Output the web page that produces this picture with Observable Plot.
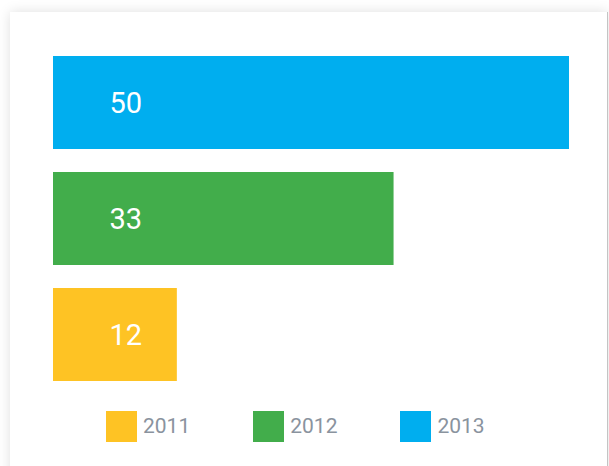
<!DOCTYPE html>
<html>
<head>
<meta charset="utf-8">
<script src="https://cdn.jsdelivr.net/npm/d3@7"></script>
<script src="https://cdn.jsdelivr.net/npm/@observablehq/plot@0.6"></script>
<style>
  html, body { margin: 0; padding: 0; background: #ffffff; width: 609px; height: 466px; overflow: hidden; font-family: Roboto, "Noto Sans", sans-serif; }
  #card { position: absolute; left: 10px; top: 12px; width: 598px; height: 520px; background: #fff;
          box-shadow: 0 0 12px rgba(0,0,0,0.13); border-right: 1px solid #c4c4c4; box-sizing: border-box; }
  #chart { position: absolute; left: 0; top: 0; }
  #legend { position: absolute; left: 106px; top: 411px; display: flex; gap: 63px; }
  .item { display: flex; align-items: center; }
  .sw { width: 31px; height: 31px; margin-right: 6px; }
  .lab { font-size: 21px; color: #8a939e; line-height: 31px; }
</style>
</head>
<body>
<div id="card"></div>
<div id="chart"></div>
<div id="legend"></div>
<script>
const years = ["2011", "2012", "2013"];
const values = [12, 33, 50];
const colors = ["#FEC324", "#42AD4B", "#00AEEF"];

const data = years.map((y, i) => ({year: y, value: values[i]}));

const chart = Plot.plot({
  width: 609,
  height: 400,
  marginLeft: 53,
  marginRight: 40,
  marginTop: 44.5,
  marginBottom: 7.5,
  style: {background: "transparent", fontFamily: "Roboto, sans-serif"},
  x: {domain: [0, 50], axis: null},
  y: {domain: [...years].reverse(), axis: null, paddingInner: 0.2, paddingOuter: 0.1},
  color: {domain: years, range: colors},
  marks: [
    Plot.barX(data, {x: "value", y: "year", fill: "year"}),
    Plot.text(data, {y: "year", text: d => String(d.value), frameAnchor: "left", dx: 56, dy: 1,
      textAnchor: "start", fill: "white", fontSize: 29})
  ]
});
document.getElementById("chart").appendChild(chart);

const legend = document.getElementById("legend");
years.forEach((y, i) => {
  const item = document.createElement("div");
  item.className = "item";
  const sw = document.createElement("div");
  sw.className = "sw";
  sw.style.background = colors[i];
  const lab = document.createElement("span");
  lab.className = "lab";
  lab.textContent = y;
  item.appendChild(sw);
  item.appendChild(lab);
  legend.appendChild(item);
});
</script>
</body>
</html>
